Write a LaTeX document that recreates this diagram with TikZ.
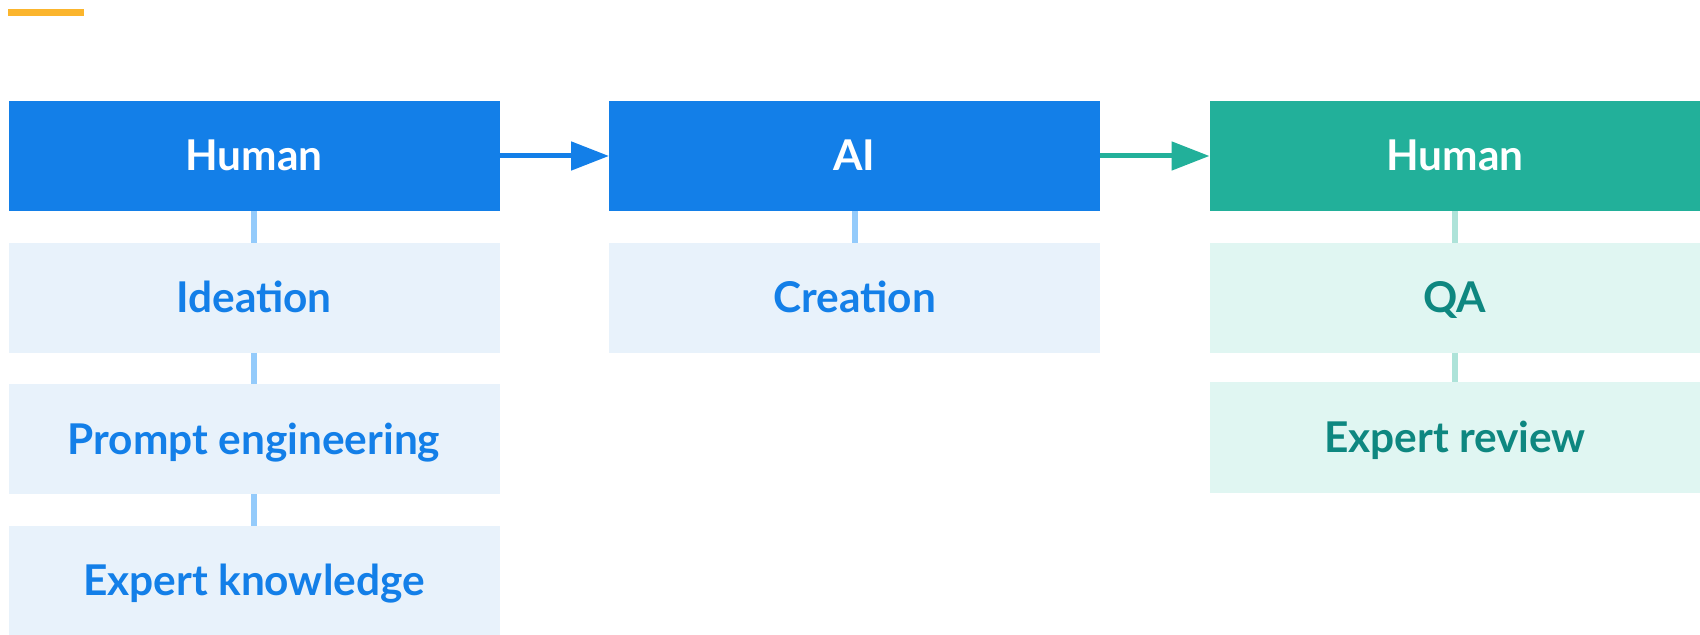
\documentclass[tikz,border=0pt]{standalone}
\usepackage{fontspec}
\setmainfont{Lato}
\usetikzlibrary{arrows.meta}

\definecolor{hblue}{HTML}{137FE8}
\definecolor{hgreen}{HTML}{22B09A}
\definecolor{sblue}{HTML}{E8F2FB}
\definecolor{sgreen}{HTML}{E0F6F2}
\definecolor{lblue}{HTML}{94CBFB}
\definecolor{lgreen}{HTML}{AEE3D9}
\definecolor{tgreen}{HTML}{0E8780}
\definecolor{baryellow}{HTML}{FBB52D}

\begin{document}
\begin{tikzpicture}[x=0.5pt, y=-0.5pt,
    box/.style={rectangle, minimum width=245.5pt, minimum height=55pt, inner sep=0pt, outer sep=0pt,
        text height=15pt, text depth=0pt, font=\fontsize{21.2}{25}\selectfont\bfseries},
    headblue/.style={box, fill=hblue, text=white},
    headgreen/.style={box, fill=hgreen, text=white},
    subblue/.style={box, fill=sblue, text=hblue},
    subgreen/.style={box, fill=sgreen, text=tgreen},
    linkblue/.style={lblue, line width=3pt},
    linkgreen/.style={lgreen, line width=3pt},
    flow/.style={line width=2.5pt, -{Triangle[length=19pt, width=14pt]}}]

    \useasboundingbox (0,0) rectangle (1700,635);
    \fill[baryellow] (8,9) rectangle (84,16);

    \node[headblue] (human1) at (254,156) {Human};
    \node[subblue] (ideation) at (254,298) {Ideation};
    \node[subblue] (prompt) at (254,439) {Prompt engineering};
    \node[subblue] (knowledge) at (254,580.5) {Expert knowledge};

    \node[headblue] (ai) at (854.5,156) {AI};
    \node[subblue] (creation) at (854.5,298) {Creation};

    \node[headgreen] (human2) at (1455,156) {Human};
    \node[subgreen] (qa) at (1455,298) {QA};
    \node[subgreen] (review) at (1455,437.5) {Expert review};

    \draw[linkblue] (human1) -- (ideation);
    \draw[linkblue] (ideation) -- (prompt);
    \draw[linkblue] (prompt) -- (knowledge);
    \draw[linkblue] (ai) -- (creation);
    \draw[linkgreen] (human2) -- (qa);
    \draw[linkgreen] (qa) -- (review);

    \draw[flow, hblue] (human1) -- (ai);
    \draw[flow, hgreen] (ai) -- (human2);
\end{tikzpicture}
\end{document}
